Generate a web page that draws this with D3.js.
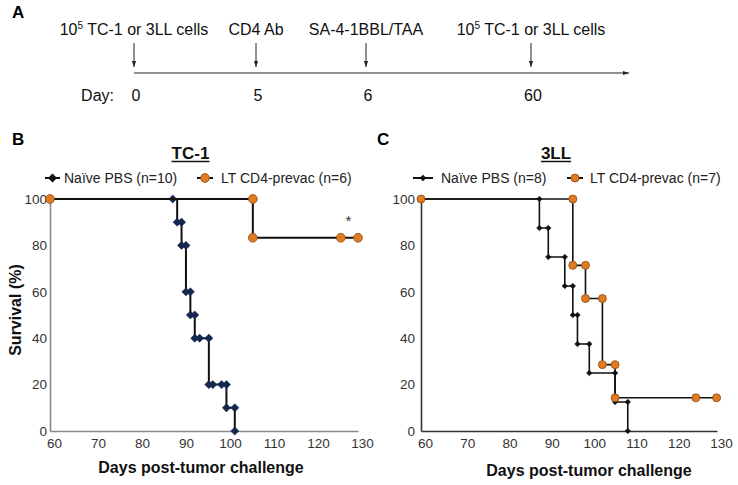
<!DOCTYPE html>
<html><head><meta charset="utf-8">
<script src="https://cdn.jsdelivr.net/npm/d3@7"></script>
<style>
body{margin:0;background:#fff}
text{font-family:Arial,"Liberation Sans",sans-serif}
</style>
</head><body>
<svg id="chart" width="738" height="485"></svg>
<script>
// ---------- Panel A: schedule ----------
const timelineDays = [0, 5, 6, 60];
const timelineLabels = ["10^5 TC-1 or 3LL cells", "CD4 Ab", "SA-4-1BBL/TAA", "10^5 TC-1 or 3LL cells"];

// ---------- Survival data (day, % survival) ----------
const xTicks = [60, 70, 80, 90, 100, 110, 120, 130];
const yTicks = [0, 20, 40, 60, 80, 100];

const tc1NaiveDays = [60, 87.9, 88.9, 89.9, 89.9, 90.9, 90.9, 91.9, 91.9, 92.9, 92.9, 94.0, 96.1, 96.1, 97.0, 99.0, 100.1, 100.1, 102.0, 102.0];
const tc1NaiveSurv = [100, 100, 90, 90, 80, 80, 60, 60, 50, 50, 40, 40, 40, 20, 20, 20, 20, 10, 10, 0];
const tc1PrevacDays = [60, 106.1, 106.1, 126.1, 130];
const tc1PrevacSurv = [100, 100, 83.3, 83.3, 83.3];

const lllNaiveDays = [60, 88.0, 88.0, 90.1, 90.1, 94.0, 94.0, 95.9, 95.9, 97.0, 97.0, 99.8, 99.8, 105.9, 105.9, 108.9, 108.9];
const lllNaiveSurv = [100, 100, 87.5, 87.5, 75, 75, 62.5, 62.5, 50, 50, 37.5, 37.5, 25, 25, 12.5, 12.5, 0];
const lllPrevacDays = [60, 95.9, 95.9, 98.9, 98.9, 102.9, 102.9, 105.9, 105.9, 125.0, 129.9];
const lllPrevacSurv = [100, 100, 71.4, 71.4, 57.1, 57.1, 28.6, 28.6, 14.3, 14.3, 14.3];

const tc1Legend = ["Naïve PBS (n=10)", "LT CD4-prevac (n=6)"];
const lllLegend = ["Naïve PBS (n=8)", "LT CD4-prevac (n=7)"];

const svg = d3.select("#chart");
svg.append("rect").attr("width", 738).attr("height", 485).attr("fill", "#fff");

const defs = svg.append("defs");
defs.append("marker").attr("id", "arr").attr("viewBox", "0 0 10 10")
  .attr("refX", 10).attr("refY", 5).attr("markerWidth", 6).attr("markerHeight", 6)
  .attr("markerUnits", "userSpaceOnUse").attr("orient", "auto")
  .append("path").attr("d", "M0,1.5L10,5L0,8.5Z").attr("fill", "#222");

// Panel A
const gA = svg.append("g");
gA.append("text").attr("x", 12).attr("y", 18).attr("font-size", 17).attr("font-weight", "bold").text("A");
const tx = d3.scaleLinear().domain(timelineDays).range([134, 256, 366, 531]);
gA.append("line").attr("x1", tx(0)).attr("x2", 629).attr("y1", 73).attr("y2", 73)
  .attr("stroke", "#222").attr("stroke-width", 1.2).attr("marker-end", "url(#arr)");
timelineDays.forEach((d, i) => {
  gA.append("line").attr("x1", tx(d)).attr("x2", tx(d)).attr("y1", 43).attr("y2", 67)
    .attr("stroke", "#222").attr("stroke-width", 1).attr("marker-end", "url(#arr)");
  const t = gA.append("text").attr("x", tx(d)).attr("y", 35).attr("text-anchor", "middle")
    .attr("font-size", 16).attr("fill", "#111");
  const lab = timelineLabels[i];
  if (lab.startsWith("10^5")) {
    t.append("tspan").text("10");
    t.append("tspan").attr("font-size", 10).attr("dy", -6).text("5");
    t.append("tspan").attr("dy", 6).text(lab.slice(4));
  } else t.text(lab);
  gA.append("text").attr("x", tx(d) + 2).attr("y", 101).attr("text-anchor", "middle")
    .attr("font-size", 16).attr("fill", "#111").text(d);
});
gA.append("text").attr("x", 114).attr("y", 101).attr("text-anchor", "end")
  .attr("font-size", 16).attr("fill", "#111").text("Day:");

// diamond symbol
const diamond = { draw(ctx, size) { const r = Math.sqrt(size / 2); ctx.moveTo(0, -r); ctx.lineTo(r, 0); ctx.lineTo(0, r); ctx.lineTo(-r, 0); ctx.closePath(); } };

function panel(o) {
  const g = svg.append("g");
  const x = d3.scaleLinear().domain([60, 130]).range([o.x0, o.x1]);
  const y = d3.scaleLinear().domain([0, 100]).range([431, 199]);

  const ax = g.append("g").attr("transform", `translate(0,${y(0)})`)
    .call(d3.axisBottom(x).tickValues(xTicks).tickSize(0).tickPadding(7));
  const ay = g.append("g").attr("transform", `translate(${o.x0},0)`)
    .call(d3.axisLeft(y).tickValues(yTicks).tickSize(0).tickPadding(o.yPad));
  [ax, ay].forEach(a => {
    a.select(".domain").attr("stroke", o.axisColor).attr("stroke-width", 1.6);
    a.selectAll("text").attr("font-size", 13.5).attr("fill", "#333")
      .style("font-family", "Arial, 'Liberation Sans', sans-serif");
  });
  ax.selectAll("text").attr("dx", 4);

  const line = d3.line().x(d => x(d[0])).y(d => y(d[1])).curve(d3.curveStepAfter);
  const naive = o.naiveDays.map((d, i) => [d, o.naiveSurv[i]]);
  const prevac = o.prevacDays.map((d, i) => [d, o.prevacSurv[i]]);

  g.append("path").attr("d", line(naive)).attr("fill", "none").attr("stroke", "#111").attr("stroke-width", o.lw);
  g.selectAll(".dm").data(naive).join("path")
    .attr("transform", d => `translate(${x(d[0])},${y(d[1])})`)
    .attr("d", d3.symbol().type(diamond).size(o.dSize))
    .attr("fill", o.dColor).attr("stroke", o.dColor).attr("stroke-width", 0.5);

  g.append("path").attr("d", line(prevac)).attr("fill", "none").attr("stroke", "#111").attr("stroke-width", o.lw);
  g.selectAll(".ci").data(prevac).join("circle")
    .attr("cx", d => x(d[0])).attr("cy", d => y(d[1])).attr("r", o.r)
    .attr("fill", "#e07b22").attr("stroke", "#8a4a12").attr("stroke-width", 0.8);

  // legend
  const ly = 178;
  const L = o.legend;
  g.append("line").attr("x1", L[0]).attr("x2", L[0] + L[1]).attr("y1", ly).attr("y2", ly).attr("stroke", "#111").attr("stroke-width", 2);
  g.append("path").attr("transform", `translate(${L[0] + L[1] / 2},${ly})`)
    .attr("d", d3.symbol().type(diamond).size(o.dSize + 6)).attr("fill", o.dColor === "#111" ? "#111" : "#111");
  g.append("text").attr("x", L[2]).attr("y", ly).attr("dy", "0.35em").attr("font-size", 14).attr("fill", "#222").text(o.legendText[0]);
  g.append("line").attr("x1", L[3]).attr("x2", L[3] + L[4]).attr("y1", ly).attr("y2", ly).attr("stroke", "#111").attr("stroke-width", 2);
  g.append("circle").attr("cx", L[3] + L[4] / 2).attr("cy", ly).attr("r", o.r)
    .attr("fill", "#e07b22").attr("stroke", "#8a4a12").attr("stroke-width", 0.8);
  g.append("text").attr("x", L[5]).attr("y", ly).attr("dy", "0.35em").attr("font-size", 14).attr("fill", "#222").text(o.legendText[1]);

  // panel letter & title
  g.append("text").attr("x", o.letterX).attr("y", 145).attr("font-size", 17).attr("font-weight", "bold").text(o.letter);
  const t = g.append("text").attr("x", o.titleX).attr("y", 159).attr("text-anchor", "middle")
    .attr("font-size", 17).attr("font-weight", "bold").attr("fill", "#111").text(o.title);
  const w = t.node().getComputedTextLength();
  g.append("line").attr("x1", o.titleX - w / 2).attr("x2", o.titleX + w / 2).attr("y1", 161.5).attr("y2", 161.5)
    .attr("stroke", "#111").attr("stroke-width", 1.5);

  g.append("text").attr("x", o.xLabelX).attr("y", o.xLabelY).attr("text-anchor", "middle")
    .attr("font-size", 16).attr("font-weight", "bold").attr("fill", "#111").text("Days post-tumor challenge");
  if (o.yLabel) {
    g.append("text").attr("transform", `translate(21,310) rotate(-90)`).attr("text-anchor", "middle")
      .attr("font-size", 16).attr("font-weight", "bold").attr("fill", "#111").text(o.yLabel);
  }
  if (o.star) g.append("text").attr("x", x(o.star[0])).attr("y", y(o.star[1])).attr("text-anchor", "middle")
    .attr("font-size", 15).attr("fill", "#333").text("*");
}

panel({
  x0: 50, x1: 358, yPad: 3, axisColor: "#8a8a8a", lw: 2, dSize: 34, dColor: "#14284f", r: 4.4,
  naiveDays: tc1NaiveDays, naiveSurv: tc1NaiveSurv, prevacDays: tc1PrevacDays, prevacSurv: tc1PrevacSurv,
  legend: [45, 15, 64, 197, 16, 221], legendText: tc1Legend,
  letter: "B", letterX: 12, title: "TC-1", titleX: 190.5,
  xLabelX: 201, xLabelY: 473, yLabel: "Survival (%)", star: [127.8, 88.5]
});
panel({
  x0: 421, x1: 717, yPad: 6, axisColor: "#333", lw: 1.6, dSize: 16, dColor: "#111", r: 4,
  naiveDays: lllNaiveDays, naiveSurv: lllNaiveSurv, prevacDays: lllPrevacDays, prevacSurv: lllPrevacSurv,
  legend: [413, 20, 441, 567, 16, 590], legendText: lllLegend,
  letter: "C", letterX: 377, title: "3LL", titleX: 556,
  xLabelX: 589, xLabelY: 476
});
</script>
</body></html>
